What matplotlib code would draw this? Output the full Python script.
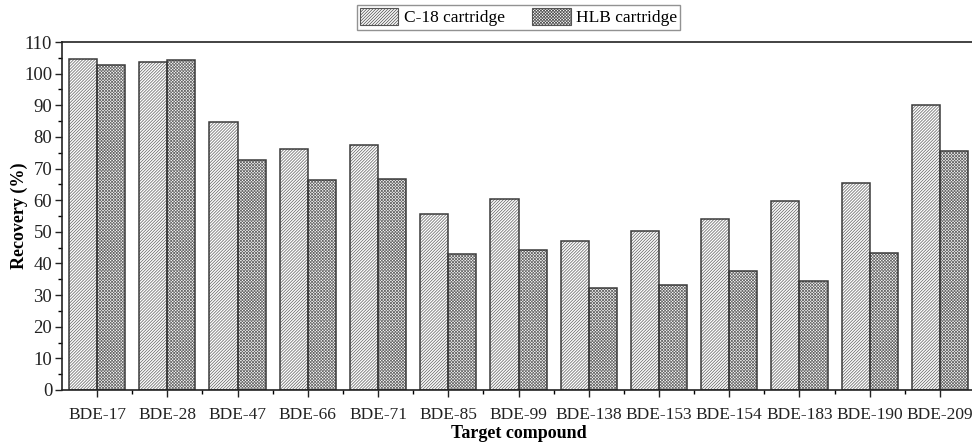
import numpy as np
import matplotlib
matplotlib.use('Agg')
import matplotlib.pyplot as plt
from matplotlib.ticker import MultipleLocator, FixedLocator

compounds = ['BDE-17', 'BDE-28', 'BDE-47', 'BDE-66', 'BDE-71', 'BDE-85', 'BDE-99',
             'BDE-138', 'BDE-153', 'BDE-154', 'BDE-183', 'BDE-190', 'BDE-209']
c18 = [104.6, 103.6, 84.7, 76.3, 77.6, 55.7, 60.3, 47.2, 50.3, 53.9, 59.7, 65.5, 90.0]
hlb = [102.7, 104.4, 72.8, 66.3, 66.6, 43.1, 44.4, 32.1, 33.2, 37.6, 34.5, 43.3, 75.6]

plt.rcParams['font.family'] = ['Liberation Serif', 'DejaVu Serif']
plt.rcParams['hatch.linewidth'] = 0.55

fig = plt.figure(figsize=(9.72, 4.45), dpi=100)
ax = fig.add_axes([62 / 972, 55 / 445, 913 / 972, 348 / 445])

x = np.arange(len(compounds))
w = 0.4
hatch_col = '#6a6a6a'
edge_col = '#3a3a3a'
hatch_c18 = '/' * 11
hatch_hlb = 'x' * 11

# hatched fill, then outline on top
ax.bar(x - w / 2, c18, w, color='white', edgecolor=hatch_col, hatch=hatch_c18, linewidth=0)
ax.bar(x + w / 2, hlb, w, color='white', edgecolor=hatch_col, hatch=hatch_hlb, linewidth=0)
ax.bar(x - w / 2, c18, w, fill=False, edgecolor=edge_col, linewidth=1.1)
ax.bar(x + w / 2, hlb, w, fill=False, edgecolor=edge_col, linewidth=1.1)

# legend handles
h1 = plt.Rectangle((0, 0), 1, 1, facecolor='white', edgecolor='#555555', hatch=hatch_c18, linewidth=0.8)
h2 = plt.Rectangle((0, 0), 1, 1, facecolor='white', edgecolor='#555555', hatch=hatch_hlb, linewidth=0.8)
leg = ax.legend([h1, h2], ['C-18 cartridge', 'HLB cartridge'], ncol=2,
                loc='lower center', bbox_to_anchor=(0.5, 1.025), fontsize=12.5,
                frameon=True, fancybox=False, borderpad=0.2, handlelength=2.2,
                handleheight=1.1, columnspacing=1.6, handletextpad=0.3,
                borderaxespad=0.2)
leg.get_frame().set_edgecolor('#777777')
leg.get_frame().set_linewidth(1.0)

ax.set_xlim(-0.5, 12.5)
ax.set_ylim(0, 110)
ax.yaxis.set_major_locator(MultipleLocator(10))
ax.yaxis.set_minor_locator(MultipleLocator(5))
ax.set_xticks(x)
ax.set_xticklabels(compounds)
ax.xaxis.set_minor_locator(FixedLocator(x[:-1] + 0.5))

ax.tick_params(axis='both', which='major', direction='out', length=5, width=1.0,
               colors='#222222')
ax.tick_params(axis='y', labelsize=13.5, pad=2)
ax.tick_params(axis='x', labelsize=12.5, pad=7)
ax.tick_params(axis='both', which='minor', direction='out', length=3, width=1.0)

for s in ['left', 'bottom', 'top']:
    ax.spines[s].set_linewidth(1.2)
    ax.spines[s].set_color('#222222')
ax.spines['right'].set_visible(False)

ax.set_ylabel('Recovery (%)', fontsize=13, fontweight='bold')
ax.yaxis.set_label_coords(-0.037, 0.5)
ax.set_xlabel('Target compound', fontsize=13, fontweight='bold', labelpad=2)

fig.savefig('out.png', dpi=100)
